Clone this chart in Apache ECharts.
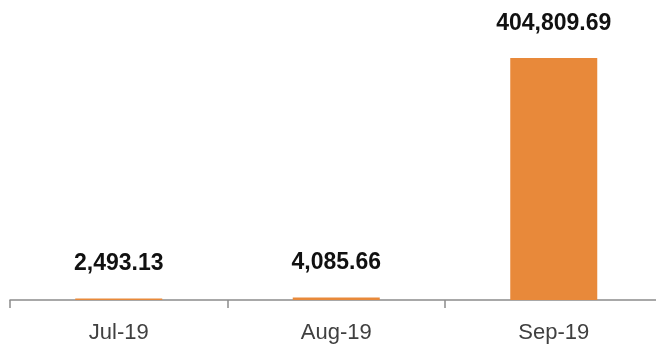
<!DOCTYPE html>
<html>
<head>
<meta charset="utf-8">
<script src="https://cdn.jsdelivr.net/npm/echarts@6/dist/echarts.min.js"></script>
<style>
  html, body { margin: 0; padding: 0; background: #ffffff; overflow: hidden; }
  /* the axis runs past the right edge of the window */
  #chart { width: 670px; height: 346px; }
</style>
</head>
<body>
<div id="chart"></div>
<script>
// Monthly totals
var months = ['Jul-19', 'Aug-19', 'Sep-19'];
var totals = [2493.13, 4085.66, 404809.69];

function formatAmount(v) {
  return v.toLocaleString('en-US', { minimumFractionDigits: 2, maximumFractionDigits: 2 });
}

var chart = echarts.init(document.getElementById('chart'), null, { renderer: 'canvas' });

chart.setOption({
  animation: false,
  backgroundColor: '#ffffff',
  grid: { left: 10, top: 31, right: 7.5, bottom: 46, containLabel: false },
  xAxis: {
    type: 'category',
    data: months,
    boundaryGap: true,
    axisLine: { show: true, lineStyle: { color: '#8c8c8c', width: 1.5 } },
    axisTick: { show: true, length: 8, alignWithLabel: false, lineStyle: { color: '#8c8c8c', width: 1.5 } },
    axisLabel: {
      color: '#404040',
      fontFamily: 'Liberation Sans',
      fontSize: 22,
      margin: 22
    }
  },
  yAxis: {
    type: 'value',
    min: 0,
    max: 450000,
    show: false,
    splitLine: { show: false }
  },
  series: [{
    type: 'bar',
    data: totals,
    barWidth: 87,
    itemStyle: { color: '#E8893A' },
    label: {
      show: true,
      position: 'top',
      distance: 23,
      color: '#111111',
      fontFamily: 'Liberation Sans',
      fontWeight: 'bold',
      fontSize: 23,
      formatter: function (p) { return formatAmount(p.value); }
    }
  }]
});
</script>
</body>
</html>
